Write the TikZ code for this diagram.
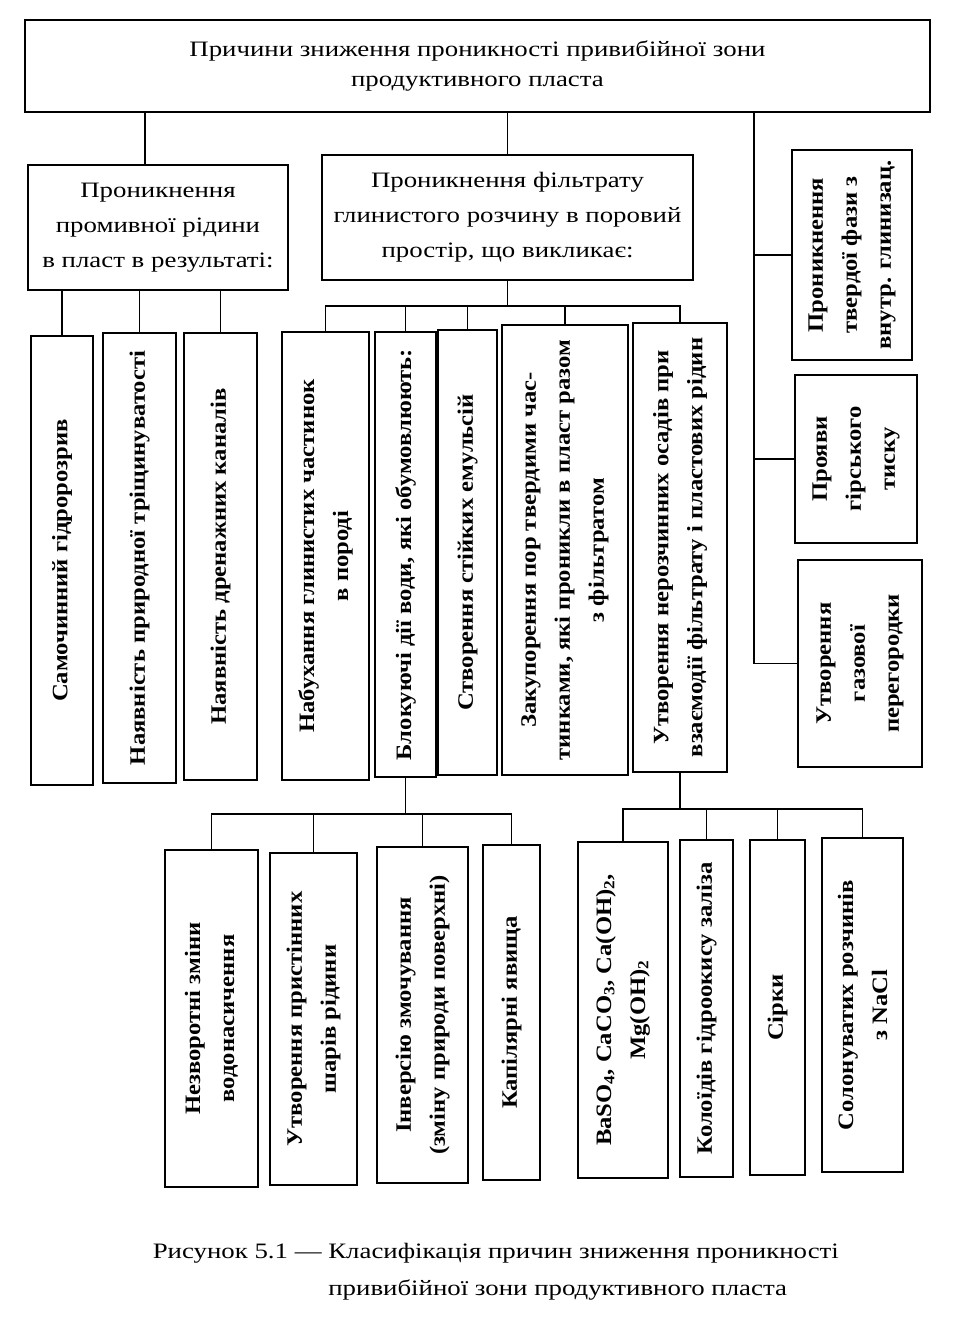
\documentclass[tikz,border=0pt]{standalone}
\usepackage{fontspec}
\setmainfont{Liberation Serif}[FakeStretch=1.22]
\newfontfamily\vfont{Liberation Serif}[FakeStretch=1.12]
\usetikzlibrary{positioning}
\tikzset{
	chart/.style={x=1pt,y=-1pt,line width=1.5pt,font=\fontsize{22}{30}\selectfont},
	cause/.style={draw,line width=1.5pt,align=center,inner sep=2pt},
	headbox/.style={cause,font=\fontsize{22}{35}\selectfont},
	vcause/.style={cause,rotate=90,font=\vfont\bfseries\fontsize{22}{34}\selectfont}
}

\begin{document}
\begin{tikzpicture}[chart]
	\useasboundingbox (0,0) rectangle (956,1325);
	
	\node[cause,minimum width=905pt,minimum height=92pt] (top) at (477.5,66) {Причини зниження проникності привибійної зони\\продуктивного пласта};
	
	\node[headbox,minimum width=260pt,minimum height=125pt] (lb) at (158,227.5) {Проникнення\\промивної рідини\\в пласт в результаті:};
	\node[headbox,minimum width=371pt,minimum height=125pt] (mid) at (507.5,217.5) {Проникнення фільтрату\\глинистого розчину в поровий\\простір, що викликає:};
	
	% rotated boxes: east = top, west = bottom, north = left side
	\node[vcause,minimum width=210pt,minimum height=120pt] (solid) at (852,255) {Проникнення\\твердої фази з\\внутр. глинизац.};
	\node[vcause,minimum width=168pt,minimum height=122pt] (rock) at (856,459) {Прояви\\гірського\\тиску};
	\node[vcause,minimum width=207pt,minimum height=124pt] (gas) at (860,663.5) {Утворення\\газової\\перегородки};
	
	\node[vcause,minimum width=449pt,minimum height=62pt] (fract) at (62,560.5) {Самочинний гідророзрив};
	\node[vcause,minimum width=450pt,minimum height=73pt] (crack) at (139.5,558) {Наявність природної тріщинуватості};
	\node[vcause,minimum width=447pt,minimum height=73pt] (drain) at (220.5,556.5) {Наявність дренажних каналів};
	
	\node[vcause,minimum width=448pt,minimum height=87pt] (swell) at (325.5,556) {Набухання глинистих частинок\\в породі};
	\node[vcause,minimum width=445pt,minimum height=61pt] (block) at (405.5,554.5) {Блокуючі дії води, які обумовлюють:};
	\node[vcause,minimum width=445pt,minimum height=59pt] (emul) at (467.5,552.5) {Створення стійких емульсій};
	\node[vcause,minimum width=450pt,minimum height=126pt] (plug) at (565,550) {Закупорення пор твердими час-\\тинками, які проникли в пласт разом\\з фільтратом};
	\node[vcause,minimum width=449pt,minimum height=94pt] (sedim) at (680,547.5) {Утворення нерозчинних осадів при\\взаємодії фільтрату і пластових рідин};
	
	\node[vcause,minimum width=337pt,minimum height=93pt] (irrev) at (211.5,1018.5) {Незворотні зміни\\водонасичення};
	\node[vcause,minimum width=332pt,minimum height=87pt] (layer) at (313.5,1019) {Утворення пристінних\\шарів рідини};
	\node[vcause,minimum width=336pt,minimum height=91pt] (wett) at (422.5,1015) {Інверсію змочування\\(зміну природи поверхні)};
	\node[vcause,minimum width=335pt,minimum height=57pt] (capil) at (511.5,1012.5) {Капілярні явища};
	
	\node[vcause,minimum width=336pt,minimum height=90pt] (salts) at (623,1010) {BaSO\textsubscript{4}, CaCO\textsubscript{3}, Ca(OH)\textsubscript{2},\\Mg(OH)\textsubscript{2}};
	\node[vcause,minimum width=337pt,minimum height=53pt] (iron) at (706.5,1008.5) {Колоїдів гідроокису заліза};
	\node[vcause,minimum width=335pt,minimum height=55pt] (sulf) at (777.5,1007.5) {Сірки};
	\node[vcause,minimum width=334pt,minimum height=81pt] (brine) at (862.5,1005) {Солонуватих розчинів\\з NaCl};
	
	\node[anchor=base west,inner sep=0pt,font=\fontsize{22}{37}\selectfont] (caption) at (152,1258) {Рисунок 5.1 — \begin{tabular}[t]{@{}l@{}}Класифікація причин зниження проникності\\привибійної зони продуктивного пласта\end{tabular}};
	
	\draw ([xshift=-13pt]lb.north) -- ([xshift=-13pt]lb.north |- top.south);
	\draw (mid.north) -- (mid.north |- top.south);
	\coordinate (spine) at (754,0);
	\draw (top.south -| spine) |- (gas.north);
	\draw (solid.north) -- (solid.north -| spine);
	\draw (rock.north) -- (rock.north -| spine);
	
	\foreach \n in {fract,crack,drain}
		\draw (\n.east) -- (\n.east |- lb.south);
	
	\draw (mid.south) -- ++(0,25) coordinate (midbus);
	\draw (swell.east) |- (midbus) -| (sedim.east);
	\foreach \n in {block,emul,plug}
		\draw (\n.east) -- (\n.east |- midbus);
	
	\draw (block.west) -- ++(0,36) coordinate (blockbus);
	\draw (irrev.east) |- (blockbus) -| (capil.east);
	\foreach \n in {layer,wett}
		\draw (\n.east) -- (\n.east |- blockbus);
	
	\draw (sedim.west) -- ++(0,36) coordinate (sedbus);
	\draw (salts.east) |- (sedbus) -| (brine.east);
	\foreach \n in {iron,sulf}
		\draw (\n.east) -- (\n.east |- sedbus);
\end{tikzpicture}
\end{document}
